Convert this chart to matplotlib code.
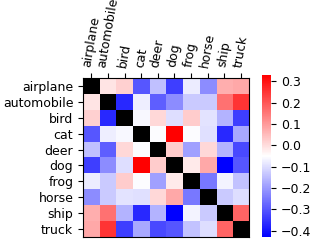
import numpy as np
import matplotlib
matplotlib.use("Agg")
import matplotlib.pyplot as plt

classes = ["airplane", "automobile", "bird", "cat", "deer",
           "dog", "frog", "horse", "ship", "truck"]

# upper triangle of the (symmetric) correlation matrix, row by row
upper = [
    [-0.01, 0.02, -0.30, -0.145, -0.335, -0.077, -0.22, 0.07, 0.08],
    [-0.37, -0.075, -0.29, -0.22, -0.13, -0.13, 0.16, 0.25],
    [-0.06, 0.007, -0.10, 0.025, -0.09, -0.16, -0.335],
    [-0.055, 0.33, -0.055, -0.095, -0.37, -0.18],
    [0.026, -0.19, 0.007, -0.16, -0.32],
    [-0.02, 0.08, -0.43, -0.30],
    [-0.25, -0.065, -0.14],
    [-0.13, -0.10],
    [0.18],
]

n = len(classes)
mat = np.full((n, n), np.nan)
for i, row in enumerate(upper):
    for k, v in enumerate(row):
        j = i + 1 + k
        mat[i, j] = v
        mat[j, i] = v

plt.rcParams["font.size"] = 9

cmap = plt.get_cmap("bwr").copy()
cmap.set_bad("black")

fig = plt.figure(figsize=(3.2, 2.4), dpi=100)
ax = fig.add_axes([83 / 320, 3 / 240, 166 / 320, 159 / 240])
cax = fig.add_axes([262 / 320, 3 / 240, 9 / 320, 162 / 240])

im = ax.imshow(np.ma.masked_invalid(mat), cmap=cmap, aspect="auto",
               vmin=np.nanmin(mat), vmax=np.nanmax(mat))
ax.xaxis.tick_top()
ax.set_xticks(range(n))
ax.set_xticklabels(classes, rotation=80)
ax.set_yticks(range(n))
ax.set_yticklabels(classes)

cb = fig.colorbar(im, cax=cax)
cb.set_ticks([0.3, 0.2, 0.1, 0.0, -0.1, -0.2, -0.3, -0.4])
cb.outline.set_visible(False)

fig.savefig("out.png", dpi=100)
